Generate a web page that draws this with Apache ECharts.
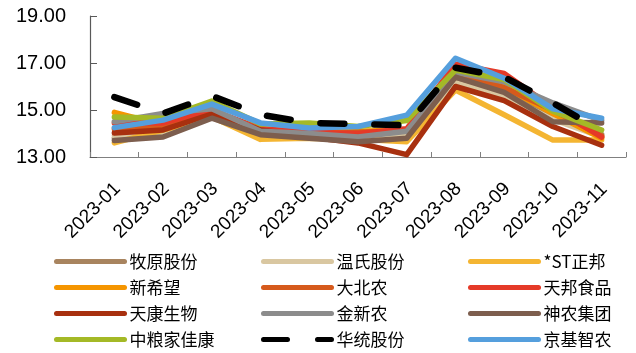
<!DOCTYPE html>
<html>
<head>
<meta charset="utf-8">
<script src="https://cdn.jsdelivr.net/npm/echarts@6/dist/echarts.min.js"></script>
<style>
html,body{margin:0;padding:0;background:#fff;}
#chart{width:636px;height:353px;}
</style>
</head>
<body>
<div id="chart"></div>
<script>
const categories = ['2023-01','2023-02','2023-03','2023-04','2023-05','2023-06','2023-07','2023-08','2023-09','2023-10','2023-11'];
const yTicks = [13, 15, 17, 19];

const muyuan     = [13.80, 14.00, 14.75, 14.00, 13.85, 13.80, 13.95, 16.30, 15.75, 14.70, 13.95];
const wens       = [13.90, 14.05, 14.70, 13.95, 13.85, 13.80, 13.90, 16.15, 15.60, 14.60, 13.85];
const zhengbang  = [13.60, 14.15, 14.70, 13.75, 13.80, 13.75, 13.65, 15.85, 14.80, 13.72, 13.72];
const xinxiwang  = [14.90, 14.35, 14.95, 14.20, 14.05, 14.10, 14.15, 16.50, 16.00, 14.85, 13.80];
const dabeinong  = [14.20, 14.30, 14.90, 14.15, 13.95, 14.05, 14.10, 16.60, 15.95, 15.00, 13.90];
const tianbang   = [14.45, 14.45, 15.00, 14.20, 14.05, 14.00, 14.20, 16.95, 16.55, 15.10, 13.85];
const tiankang   = [14.02, 14.15, 14.83, 14.15, 13.85, 13.60, 13.10, 16.00, 15.40, 14.30, 13.50];
const jinxinnong = [14.50, 14.85, 15.05, 14.10, 14.00, 13.85, 14.10, 16.60, 16.20, 15.30, 14.55];
const shennong   = [13.70, 13.85, 14.65, 13.95, 13.80, 13.65, 13.80, 16.40, 15.75, 14.50, 14.45];
const zhongliang = [14.70, 14.65, 15.38, 14.40, 14.45, 14.30, 14.55, 16.70, 16.30, 14.95, 14.15];
const huatong    = [15.55, 14.85, 15.60, 14.80, 14.45, 14.40, 14.35, 16.80, 16.40, 15.30, 14.10];
const jingji     = [14.25, 14.57, 15.25, 14.45, 14.23, 14.30, 14.78, 17.20, 16.35, 15.05, 14.65];

const seriesDefs = [
  {name:'牧原股份', data:muyuan, color:'#a8845f'},
  {name:'温氏股份', data:wens, color:'#d9c7a1'},
  {name:'*ST正邦', data:zhengbang, color:'#f4b532'},
  {name:'新希望', data:xinxiwang, color:'#f59500'},
  {name:'大北农', data:dabeinong, color:'#d65a1c'},
  {name:'天邦食品', data:tianbang, color:'#e53a28'},
  {name:'天康生物', data:tiankang, color:'#a8300f'},
  {name:'金新农', data:jinxinnong, color:'#8c8c8c'},
  {name:'神农集团', data:shennong, color:'#7d5e4e'},
  {name:'中粮家佳康', data:zhongliang, color:'#a4b926'},
  {name:'华统股份', data:huatong, color:'#000000', dashed:true},
  {name:'京基智农', data:jingji, color:'#559fdd'}
];

const cols = [
  ['牧原股份','新希望','天康生物','中粮家佳康'],
  ['温氏股份','大北农','金新农','华统股份'],
  ['*ST正邦','天邦食品','神农集团','京基智农']
];
const colLeft = [49, 256, 463];

const chart = echarts.init(document.getElementById('chart'));
const option = {
  animation: false,
  backgroundColor: '#fff',
  grid: {left: 90, right: 10, top: 16, bottom: 196, containLabel: false},
  xAxis: {
    type: 'category',
    data: categories,
    boundaryGap: true,
    axisLine: {show: true, lineStyle: {color: '#808080', width: 1.2}},
    axisTick: {show: true, inside: true, length: 5, alignWithLabel: false, interval: 0, lineStyle: {color: '#808080'}},
    axisLabel: {
      interval: 0, rotate: 45, fontSize: 19, color: '#000',
      fontFamily: 'Liberation Sans, Arial, sans-serif',
      align: 'center', padding: [0, 61, 0, 0], margin: 32
    },
    splitLine: {show: false}
  },
  yAxis: {
    type: 'value', min: yTicks[0], max: yTicks[yTicks.length-1], interval: 2,
    axisLine: {show: true, lineStyle: {color: '#595959', width: 1.2}},
    axisTick: {show: true, inside: true, length: 7, lineStyle: {color: '#595959'}},
    axisLabel: {
      fontSize: 20, color: '#000', margin: 24,
      fontFamily: 'Liberation Sans, Arial, sans-serif',
      formatter: v => v.toFixed(2)
    },
    splitLine: {show: false}
  },
  legend: cols.map((names, i) => ({
    orient: 'vertical',
    left: colLeft[i], top: 248, height: 105,
    itemWidth: 68, itemHeight: 14, itemGap: 9,
    selectedMode: false,
    lineStyle: {width: 5},
    itemStyle: {opacity: 0, color: 'rgba(0,0,0,0)', borderWidth: 0},
    textStyle: {fontSize: 17, color: '#000', fontFamily: 'Noto Sans CJK SC, Liberation Sans, sans-serif'},
    data: names
  })),
  series: seriesDefs.map(s => ({
    name: s.name,
    type: 'line',
    data: s.data,
    symbol: 'none',
    z: s.dashed ? 3 : 2,
    itemStyle: {color: s.color},
    lineStyle: s.dashed
      ? {color: s.color, width: 6.5, type: [24, 30], cap: 'round', join: 'round'}
      : {color: s.color, width: 5.5, cap: 'round', join: 'round'}
  }))
};
chart.setOption(option);
</script>
</body>
</html>
